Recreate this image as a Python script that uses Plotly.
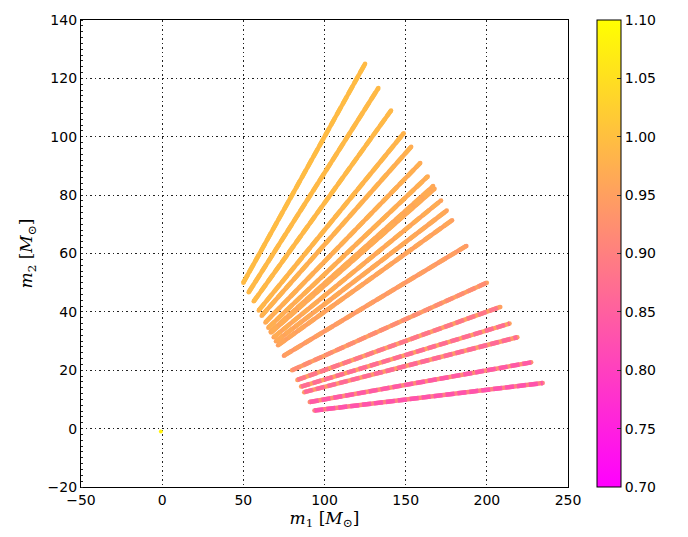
import plotly.graph_objects as go

# Each track: constant mass-ratio line, start (low total mass) and end (high total mass)
m1_start = [50.0, 53.3, 56.4, 59.5, 61.3, 63.6, 65.4, 66.8, 67.1, 68.7, 70.1, 71.4, 75.0, 80.0, 83.3, 85.6, 87.5, 90.9, 93.8]
m2_start = [50.0, 46.7, 43.6, 40.5, 38.7, 36.4, 34.6, 33.2, 32.9, 31.3, 29.9, 28.6, 25.0, 20.0, 16.7, 14.4, 12.5, 9.1, 6.2]
m1_end = [125.0, 133.2, 141.0, 148.8, 153.4, 159.0, 163.6, 166.9, 167.8, 171.8, 175.3, 178.6, 187.4, 200.0, 208.3, 214.0, 218.8, 227.3, 234.4]
m2_end = [125.0, 116.7, 109.0, 101.2, 96.6, 91.0, 86.4, 83.1, 82.2, 78.2, 74.7, 71.4, 62.6, 50.0, 41.7, 36.0, 31.3, 22.7, 15.6]
# dominant colour value and speckle colour value along each track
val_main = [0.995, 0.99, 0.99, 0.985, 0.98, 0.975, 0.975, 0.97, 0.97, 0.97, 0.965, 0.96, 0.95, 0.92, 0.885, 0.87, 0.865, 0.84, 0.83]
val_speck = [0.99, 0.99, 0.985, 0.98, 0.97, 0.965, 0.965, 0.96, 0.96, 0.955, 0.955, 0.95, 0.935, 0.95, 0.95, 0.95, 0.94, 0.92, 0.90]

# isolated point near the origin
pt_m1 = [-0.8]
pt_m2 = [-1.0]
pt_val = [1.08]

cmin, cmax = 0.70, 1.10
x_ticks = [-50, 0, 50, 100, 150, 200, 250]
y_ticks = [-20, 0, 20, 40, 60, 80, 100, 120, 140]
cb_ticks = [0.70, 0.75, 0.80, 0.85, 0.90, 0.95, 1.00, 1.05, 1.10]


def spring(v):
    t = min(max((v - cmin) / (cmax - cmin), 0.0), 1.0)
    return "rgb(255,%d,%d)" % (round(255 * t), round(255 * (1 - t)))


def lab(v):
    return ("\u2212" + str(abs(v))) if v < 0 else str(v)


fig = go.Figure()
for i in range(len(m1_start)):
    xs = [m1_start[i], m1_end[i]]
    ys = [m2_start[i], m2_end[i]]
    fig.add_trace(go.Scatter(x=xs, y=ys, mode="lines+markers",
                             line=dict(color=spring(val_speck[i]), width=4.5),
                             marker=dict(color=spring(val_speck[i]), size=4.5),
                             hoverinfo="skip", showlegend=False))
    fig.add_trace(go.Scatter(x=xs, y=ys, mode="lines",
                             line=dict(color=spring(val_main[i]), width=4.5, dash="9px,3px"),
                             hoverinfo="skip", showlegend=False))

fig.add_trace(go.Scatter(
    x=pt_m1, y=pt_m2, mode="markers", showlegend=False,
    marker=dict(size=4, color=pt_val, cmin=cmin, cmax=cmax,
                colorscale=[[0, "#ff00ff"], [1, "#ffff00"]],
                showscale=True,
                colorbar=dict(x=1.0595, xanchor="left", xpad=0, ypad=0,
                              y=0.5, yanchor="middle", len=1.0, lenmode="fraction",
                              thickness=24, outlinecolor="black", outlinewidth=1,
                              ticks="inside", ticklen=4, tickcolor="#333",
                              tickvals=cb_ticks, ticktext=["%.2f" % v for v in cb_ticks],
                              tickfont=dict(family="DejaVu Sans", size=14, color="black")))))

axis_common = dict(showgrid=True, griddash="1.5px,3px", gridcolor="#222", gridwidth=1,
                   showline=True, mirror=True, linecolor="black", linewidth=1.2,
                   zeroline=False, ticks="",
                   tickfont=dict(family="DejaVu Sans", size=14, color="black"))

fig.update_layout(
    width=688, height=537,
    margin=dict(l=81, r=120, t=16, b=50),
    paper_bgcolor="white", plot_bgcolor="white",
    xaxis=dict(range=[-50, 250], tickvals=x_ticks, ticktext=[lab(v) for v in x_ticks],
               title=dict(text="<i>m</i><sub>1</sub> [<i>M</i><sub>\u2299</sub>]",
                          font=dict(family="DejaVu Serif", size=17, color="black"),
                          standoff=2),
               **axis_common),
    yaxis=dict(range=[-20, 140], tickvals=y_ticks, ticktext=[lab(v) for v in y_ticks],
               title=dict(text="<i>m</i><sub>2</sub> [<i>M</i><sub>\u2299</sub>]",
                          font=dict(family="DejaVu Serif", size=17, color="black"),
                          standoff=10),
               minor=dict(ticks="inside", ticklen=2, dtick=2, tickcolor="#222", showgrid=False),
               **axis_common),
)

fig.write_html("out.html")
